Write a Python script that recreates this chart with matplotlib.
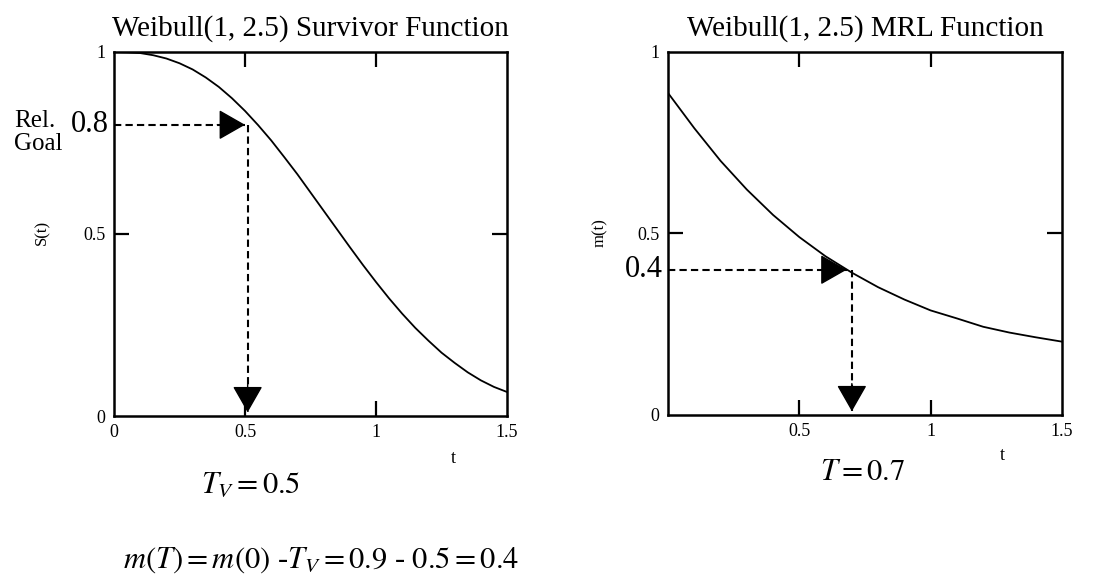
import matplotlib
matplotlib.use("Agg")
import matplotlib.pyplot as plt
from matplotlib import transforms

plt.rcParams['font.family'] = ['Liberation Serif', 'DejaVu Serif']
plt.rcParams['mathtext.fontset'] = 'stix'

# survivor function S(t), Weibull(1, 2.5)
t_surv = [0.0, 0.05, 0.1, 0.15, 0.2, 0.25, 0.3, 0.35, 0.4, 0.45, 0.5,
          0.55, 0.6, 0.65, 0.7, 0.75, 0.8, 0.85, 0.9, 0.95, 1.0,
          1.05, 1.1, 1.15, 1.2, 1.25, 1.3, 1.35, 1.4, 1.45, 1.5]
s_vals = [1.000, 0.999, 0.997, 0.991, 0.982, 0.969, 0.952, 0.930, 0.904, 0.873, 0.838,
          0.799, 0.757, 0.711, 0.664, 0.614, 0.564, 0.514, 0.464, 0.415, 0.368,
          0.323, 0.281, 0.242, 0.207, 0.174, 0.146, 0.120, 0.098, 0.080, 0.066]

# mean residual life m(t)
t_mrl = [0.0, 0.1, 0.2, 0.3, 0.4, 0.5, 0.6, 0.7, 0.8, 0.9, 1.0,
         1.1, 1.2, 1.3, 1.4, 1.5]
m_vals = [0.887, 0.790, 0.700, 0.621, 0.551, 0.490, 0.437, 0.392, 0.352, 0.318, 0.288,
          0.266, 0.243, 0.227, 0.214, 0.202]

rel_goal = 0.8
t_v = 0.5
m_target = 0.4
t_warranty = 0.7

fig = plt.figure(figsize=(11.19, 5.82), dpi=100)
ax1 = fig.add_axes([0.1019, 0.2852, 0.3512, 0.6255])
ax2 = fig.add_axes([0.597, 0.287, 0.352, 0.6237])

def style_axes(ax, xticks, xlabels):
    ax.set_xlim(0, 1.5)
    ax.set_ylim(0, 1)
    ax.set_xticks(xticks)
    ax.set_xticklabels(xlabels)
    ax.set_yticks([0, 0.5, 1])
    ax.set_yticklabels(['0', '0.5', '1'])
    for sp in ax.spines.values():
        sp.set_linewidth(1.8)
    ax.tick_params(direction='in', length=11, width=1.6, labelsize=13,
                   top=True, right=True, pad=6)
    # no tick marks at the frame corners
    for tl in ax.xaxis.get_major_ticks():
        if tl.get_loc() in (0, 1.5):
            tl.tick1line.set_visible(False)
            tl.tick2line.set_visible(False)
    for tl in ax.yaxis.get_major_ticks():
        if tl.get_loc() in (0, 1):
            tl.tick1line.set_visible(False)
            tl.tick2line.set_visible(False)

def dashed_arrow(ax, start, end, direction):
    # dashed shaft, then a solid filled head at the end point
    ax.plot([start[0], end[0]], [start[1], end[1]], color='black', lw=1.5,
            linestyle=(0, (3.5, 2)))
    off = {'right': (-20, 0), 'down': (0, 20)}[direction]
    ax.annotate('', xy=end, xytext=off, textcoords='offset points',
                arrowprops=dict(arrowstyle='-|>,head_length=0.7,head_width=0.4',
                                mutation_scale=24, color='black', lw=1.0,
                                shrinkA=0, shrinkB=0))

# left panel: survivor function
style_axes(ax1, [0, 0.5, 1, 1.5], ['0', '0.5', '1', '1.5'])
ax1.plot(t_surv, s_vals, color='black', lw=1.3)
dashed_arrow(ax1, (0, rel_goal), (t_v, rel_goal), 'right')
dashed_arrow(ax1, (t_v + 0.01, rel_goal), (t_v + 0.01, 0.01), 'down')
ax1.set_title('Weibull(1, 2.5) Survivor Function', fontsize=21, pad=12)
trans1 = transforms.blended_transform_factory(ax1.transAxes, ax1.transData)
ax1.text(-0.012, rel_goal, '0.8', transform=trans1, ha='right', va='center', fontsize=22)

# right panel: MRL function
style_axes(ax2, [0, 0.5, 1, 1.5], ['', '0.5', '1', '1.5'])
ax2.plot(t_mrl, m_vals, color='black', lw=1.3)
dashed_arrow(ax2, (0, m_target), (t_warranty - 0.02, m_target), 'right')
dashed_arrow(ax2, (t_warranty, m_target), (t_warranty, 0.01), 'down')
ax2.set_title('Weibull(1, 2.5) MRL Function', fontsize=21, pad=12)
trans2 = transforms.blended_transform_factory(ax2.transAxes, ax2.transData)
ax2.text(-0.012, m_target, '0.4', transform=trans2, ha='right', va='center', fontsize=22)

# axis labels
fig.text(0.038, 0.6, 'S(t)', rotation=90, ha='center', va='center', fontsize=12)
fig.text(0.536, 0.6, 'm(t)', rotation=90, ha='center', va='center', fontsize=12)
fig.text(0.405, 0.213, 't', ha='center', va='center', fontsize=13)
fig.text(0.896, 0.218, 't', ha='center', va='center', fontsize=13)

fig.text(0.0125, 0.773, 'Rel.\nGoal', ha='left', va='center', fontsize=18, linespacing=1.05)

fig.text(0.224, 0.167, r'$T_V = 0.5$', ha='center', va='center', fontsize=22)
fig.text(0.771, 0.189, r'$T = 0.7$', ha='center', va='center', fontsize=22)
fig.text(0.287, 0.038, r'$m(T) = m(0)$ -$T_V = 0.9$ - $0.5 = 0.4$',
         ha='center', va='center', fontsize=22)

fig.savefig('out.png', dpi=100)
